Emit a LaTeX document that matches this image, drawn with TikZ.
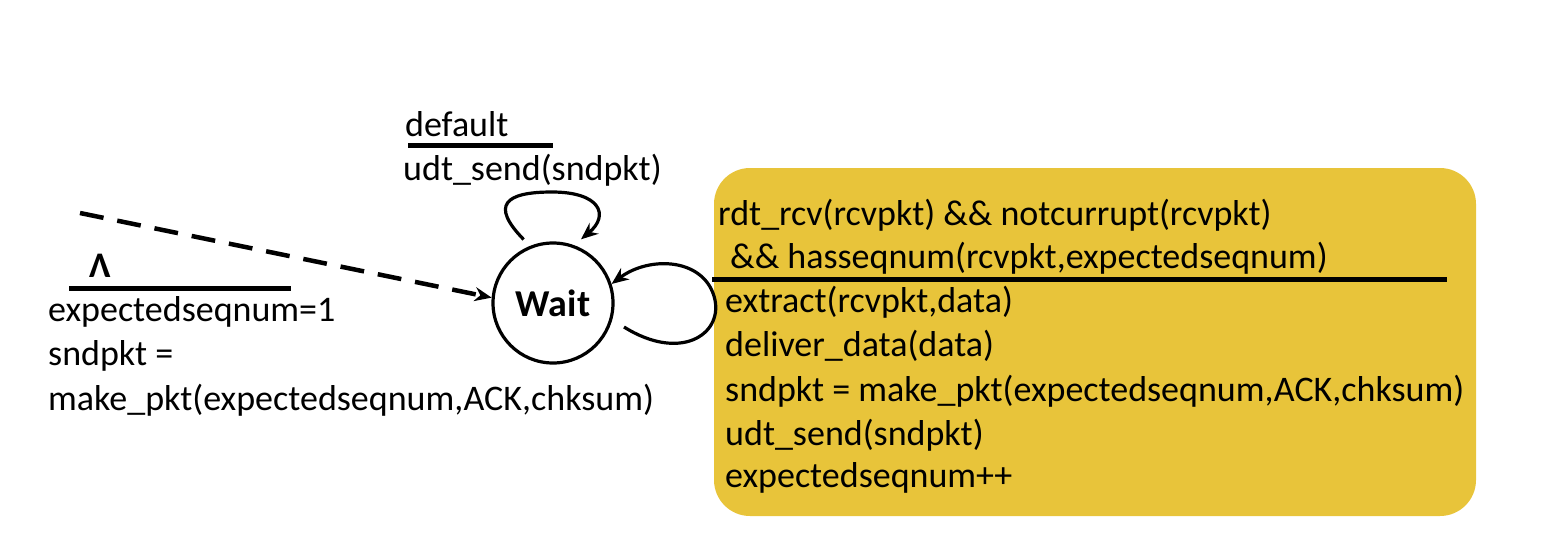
\documentclass[tikz,border=0pt]{standalone}
\usepackage{fontspec}
\setmainfont{Carlito}
\usetikzlibrary{arrows.meta}
\definecolor{boxyellow}{RGB}{232,196,58}

\begin{document}
\begin{tikzpicture}[x=1pt,y=-1pt,
    lbl/.style={anchor=base west,inner sep=0pt,font=\fontsize{36}{44}\selectfont},
    arr/.style={-{Stealth[length=17pt,width=14pt]},line width=3.2pt},
    rule/.style={line width=5pt}]
\useasboundingbox (0,0) rectangle (1550,546);

% receiver action box
\fill[boxyellow,rounded corners=36pt] (714,168) rectangle (1476,516);
\node[lbl] (cond1) at (718,225) {rdt\_rcv(rcvpkt) \&\& notcurrupt(rcvpkt)};
\node[lbl] (cond2) at (730,268) {\&\& hasseqnum(rcvpkt,expectedseqnum)};
\draw[rule] (712,279) -- (1447,279);
\node[lbl] (act1) at (725,312) {extract(rcvpkt,data)};
\node[lbl] (act2) at (725,356) {deliver\_data(data)};
\node[lbl] (act3) at (725,401) {sndpkt = make\_pkt(expectedseqnum,ACK,chksum)};
\node[lbl] (act4) at (725,445) {udt\_send(sndpkt)};
\node[lbl] (act5) at (725,487) {expectedseqnum++};

% the state
\node[draw,circle,line width=3.2pt,minimum size=120pt,inner sep=0pt,
      font=\bfseries\fontsize{38}{44}\selectfont] (w) at (553,303) {Wait};

% initial transition
\coordinate (init) at (80,213);
\draw[arr,line width=4.5pt,dash pattern=on 24pt off 14pt] (init) -- (w.175);
\node[lbl,font=\bfseries\fontsize{36}{40}\selectfont] (lam) at (89,277) {Λ};
\draw[rule] (69,288) -- (291,288);
\node[lbl] (ini1) at (48,321) {expectedseqnum=1};
\node[lbl] (ini2) at (48,365) {sndpkt =};
\node[lbl] (ini3) at (48,410) {make\_pkt(expectedseqnum,ACK,chksum)};

% default self loop
\node[lbl] (dflt) at (405,136) {default};
\draw[rule] (408,145) -- (553,145);
\node[lbl] (dsend) at (403,180) {udt\_send(sndpkt)};
\draw[arr,shorten <=9pt,shorten >=9pt] (w.112) .. controls (490,205) and (505,192) .. (552,192)
    .. controls (600,192) and (610,215) .. (w.70);

% receive self loop
\coordinate (rs) at (624,327);
\draw[arr] (rs) .. controls (680,362) and (722,335) .. (715,300)
    .. controls (706,258) and (650,255) .. (w.18);
\end{tikzpicture}
\end{document}
